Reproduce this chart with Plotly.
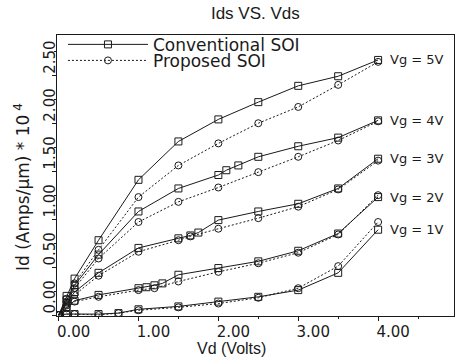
import plotly.graph_objects as go

# ---- data (Vd in volts, Id in Amps/um * 1e-4) ----
vg_labels = ["Vg = 5V", "Vg = 4V", "Vg = 3V", "Vg = 2V", "Vg = 1V"]

vd_5c = [0, 0.1, 0.2, 0.5, 1.0, 1.5, 2.0, 2.5, 3.0, 3.5, 4.0]
id_5c = [0, 0.20, 0.38, 0.78, 1.41, 1.81, 2.04, 2.22, 2.39, 2.49, 2.66]
vd_5p = [0, 0.1, 0.2, 0.5, 1.0, 1.5, 2.0, 2.5, 3.0, 3.5, 4.0]
id_5p = [0, 0.17, 0.33, 0.68, 1.23, 1.56, 1.79, 2.00, 2.17, 2.40, 2.64]

vd_4c = [0, 0.1, 0.2, 0.5, 1.0, 1.5, 2.0, 2.1, 2.25, 2.5, 3.0, 3.5, 4.0]
id_4c = [0, 0.16, 0.31, 0.63, 1.08, 1.32, 1.46, 1.51, 1.56, 1.65, 1.76, 1.85, 2.03]
vd_4p = [0, 0.1, 0.2, 0.5, 1.0, 1.5, 2.0, 2.5, 3.0, 3.5, 4.0]
id_4p = [0, 0.14, 0.28, 0.59, 0.97, 1.18, 1.33, 1.49, 1.65, 1.82, 2.02]

vd_3c = [0, 0.1, 0.2, 0.5, 1.0, 1.5, 1.65, 1.75, 2.0, 2.5, 3.0, 3.5, 4.0]
id_3c = [0, 0.12, 0.24, 0.44, 0.70, 0.80, 0.83, 0.86, 0.99, 1.08, 1.16, 1.32, 1.63]
vd_3p = [0, 0.1, 0.2, 0.5, 1.0, 1.5, 1.65, 2.0, 2.5, 3.0, 3.5, 4.0]
id_3p = [0, 0.10, 0.21, 0.41, 0.66, 0.78, 0.82, 0.90, 1.01, 1.13, 1.31, 1.61]

vd_2c = [0, 0.1, 0.2, 0.5, 1.0, 1.1, 1.2, 1.3, 1.5, 2.0, 2.5, 3.0, 3.5, 4.0]
id_2c = [0, 0.08, 0.15, 0.21, 0.28, 0.29, 0.31, 0.33, 0.42, 0.49, 0.56, 0.67, 0.85, 1.23]
vd_2p = [0, 0.1, 0.2, 0.5, 1.0, 1.2, 1.5, 2.0, 2.5, 3.0, 3.5, 4.0]
id_2p = [0, 0.07, 0.14, 0.19, 0.26, 0.28, 0.35, 0.45, 0.54, 0.65, 0.84, 1.25]

vd_1c = [0, 0.1, 0.2, 0.5, 0.75, 1.0, 1.5, 2.0, 2.5, 3.0, 3.5, 4.0]
id_1c = [0, 0.01, 0.01, 0.01, 0.02, 0.06, 0.09, 0.14, 0.19, 0.26, 0.44, 0.89]
vd_1p = [0, 0.1, 0.2, 0.5, 0.75, 1.0, 1.5, 2.0, 2.5, 3.0, 3.5, 4.0]
id_1p = [0, 0.01, 0.01, 0.0, 0.02, 0.05, 0.08, 0.12, 0.18, 0.28, 0.51, 0.97]

x_ticks = [0, 1, 2, 3, 4]
x_ticktext = ["0.00", "1.00", "2.00", "3.00", "4.00"]
y_ticks = [0, 0.5, 1.0, 1.5, 2.0, 2.5]
y_ticktext = ["0.00", "0.50", "1.00", "1.50", "2.00", "2.50"]

conv = [(vd_5c, id_5c), (vd_4c, id_4c), (vd_3c, id_3c), (vd_2c, id_2c), (vd_1c, id_1c)]
prop = [(vd_5p, id_5p), (vd_4p, id_4p), (vd_3p, id_3p), (vd_2p, id_2p), (vd_1p, id_1p)]

INK = "#1a1a1a"
SANS = "Liberation Sans, Arial, sans-serif"
WIDE = "DejaVu Sans, sans-serif"

fig = go.Figure()
for i, (x, y) in enumerate(conv):
    fig.add_trace(go.Scatter(
        x=x, y=y, mode="lines+markers", name="Conventional SOI",
        legend="legend", showlegend=(i == 0),
        line=dict(color=INK, width=1, dash="solid"),
        marker=dict(symbol="square-open", size=7, color=INK, line=dict(width=1)),
    ))
for i, (x, y) in enumerate(prop):
    fig.add_trace(go.Scatter(
        x=x, y=y, mode="lines+markers", name="Proposed SOI",
        legend="legend2", showlegend=(i == 0),
        line=dict(color=INK, width=1, dash="2px,2px"),
        marker=dict(symbol="circle-open", size=7, color=INK, line=dict(width=1)),
    ))

for lab, (x, y) in zip(vg_labels, conv):
    fig.add_annotation(x=x[-1], y=y[-1], text=lab, showarrow=False,
                       xanchor="left", yanchor="middle", xshift=10,
                       font=dict(family=WIDE, size=13, color=INK))

fig.add_annotation(x=0.44, y=-0.115, xref="paper", yref="paper", text="Vd (Volts)",
                   showarrow=False, xanchor="center", yanchor="middle",
                   font=dict(family=SANS, size=16, color=INK))
fig.add_annotation(x=-0.09, y=0.46, xref="paper", yref="paper",
                   text="Id (Amps/μm) * 10<sup> 4</sup>", textangle=-90,
                   showarrow=False, xanchor="center", yanchor="middle",
                   font=dict(family=WIDE, size=17, color=INK))

leg_common = dict(xanchor="left", yanchor="middle",
                  bgcolor="rgba(255,255,255,0)", borderwidth=0,
                  font=dict(family=WIDE, size=17, color=INK),
                  itemwidth=80)

fig.update_layout(
    width=456, height=362,
    margin=dict(l=57, r=2, t=35, b=46, autoexpand=False),
    paper_bgcolor="white", plot_bgcolor="white",
    title=dict(text="Ids VS. Vds", x=0.56, xanchor="center", y=0.965, yanchor="middle",
               font=dict(family=SANS, size=17, color=INK)),
    font=dict(family=SANS, size=13, color=INK),
    legend=dict(x=0.015, y=0.965, **leg_common),
    legend2=dict(x=0.015, y=0.908, **leg_common),
    showlegend=True,
)
fig.update_xaxes(
    range=[-0.02, 4.95], tickvals=x_ticks, ticktext=x_ticktext,
    ticklabelshift=15, ticklabelstandoff=-2,
    showline=True, linecolor=INK, linewidth=1, mirror=True,
    ticks="outside", ticklen=4, tickcolor=INK,
    minor=dict(dtick=0.5, ticks="outside", ticklen=2, tickcolor=INK),
    showgrid=False, zeroline=False, automargin=False,
    tickfont=dict(family=WIDE, size=15, color=INK),
)
fig.update_yaxes(
    range=[-0.01, 2.92], tickvals=y_ticks, ticktext=y_ticktext,
    tickangle=-90, ticklabelshift=-16, ticklabelstandoff=-9,
    showline=True, linecolor=INK, linewidth=1, mirror=True,
    ticks="outside", ticklen=4, tickcolor=INK,
    minor=dict(dtick=0.25, ticks="outside", ticklen=2, tickcolor=INK),
    showgrid=False, zeroline=False, automargin=False,
    tickfont=dict(family=WIDE, size=15, color=INK),
)

fig.write_html("out.html", config={"displayModeBar": False},
               post_script="document.body.style.margin='0px';")
